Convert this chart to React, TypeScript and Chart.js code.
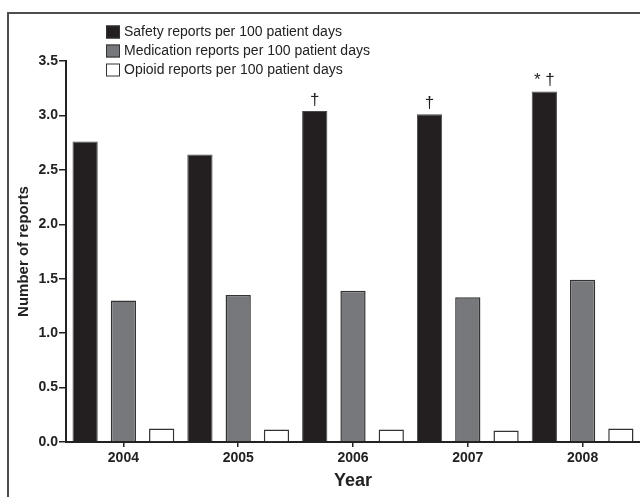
import React, { useEffect, useRef } from "react";
import { Chart, registerables } from "chart.js";

Chart.register(...registerables);

const years = ["2004", "2005", "2006", "2007", "2008"];
const safety = [2.76, 2.64, 3.04, 3.01, 3.22];
const medication = [1.3, 1.35, 1.39, 1.33, 1.49];
const opioid = [0.125, 0.115, 0.115, 0.105, 0.125];
const seriesLabels = [
  "Safety reports per 100 patient days",
  "Medication reports per 100 patient days",
  "Opioid reports per 100 patient days",
];
const safetyMarks = ["", "", "†", "†", "* †"];
const yAxisTitle = "Number of reports";
const xAxisTitle = "Year";

const FONT = "'Liberation Sans', Arial, Helvetica, sans-serif";
const fills = ["#231f20", "#77787b", "#ffffff"];
const borders = ["#4a4a4a", "#333333", "#333333"];

const decorPlugin = {
  id: "decor",
  beforeDraw(chart: any) {
    const ctx = chart.ctx;
    ctx.save();
    ctx.fillStyle = "#ffffff";
    ctx.fillRect(0, 0, chart.width, chart.height);
    ctx.restore();
  },
  afterDraw(chart: any) {
    const ctx = chart.ctx;
    ctx.save();
    // frame (top and left)
    ctx.strokeStyle = "#4d4d4d";
    ctx.lineWidth = 2;
    ctx.beginPath();
    ctx.moveTo(8, chart.height);
    ctx.lineTo(8, 13);
    ctx.lineTo(chart.width, 13);
    ctx.stroke();

    // legend
    const rows = [32, 51, 70];
    chart.data.datasets.forEach((ds: any, i: number) => {
      const cy = rows[i];
      ctx.fillStyle = ds.backgroundColor;
      ctx.fillRect(106, cy - 6.5, 14, 13);
      ctx.strokeStyle = "#333333";
      ctx.lineWidth = 1;
      ctx.strokeRect(106.5, cy - 6, 13, 12);
      ctx.fillStyle = "#222222";
      ctx.font = `14px ${FONT}`;
      ctx.textAlign = "left";
      ctx.textBaseline = "middle";
      ctx.fillText(ds.label, 124, cy + 0.5);
    });

    // significance marks above safety bars
    const meta = chart.getDatasetMeta(0);
    ctx.fillStyle = "#222222";
    ctx.font = `17px ${FONT}`;
    ctx.textAlign = "center";
    ctx.textBaseline = "alphabetic";
    meta.data.forEach((bar: any, i: number) => {
      const m = safetyMarks[i];
      if (!m) return;
      ctx.fillText(m, bar.x, bar.y - 6);
    });
    ctx.restore();
  },
};

export default function App() {
  const ref = useRef<HTMLCanvasElement | null>(null);

  useEffect(() => {
    if (!ref.current) return;
    const chart = new Chart(ref.current, {
      type: "bar",
      data: {
        labels: years,
        datasets: [
          { label: seriesLabels[0], data: safety, backgroundColor: fills[0], borderColor: borders[0], borderWidth: 1 },
          { label: seriesLabels[1], data: medication, backgroundColor: fills[1], borderColor: borders[1], borderWidth: 1.5 },
          { label: seriesLabels[2], data: opioid, backgroundColor: fills[2], borderColor: borders[2], borderWidth: 1.5 },
        ],
      },
      options: {
        animation: false,
        responsive: false,
        devicePixelRatio: 1,
        layout: { padding: { top: 61, left: 0, right: 0, bottom: 0 } },
        datasets: { bar: { barPercentage: 0.66, categoryPercentage: 1.0 } },
        plugins: { legend: { display: false }, tooltip: { enabled: false } },
        scales: {
          x: {
            offset: true,
            grid: { offset: false, drawOnChartArea: false, drawTicks: true, tickLength: 5, color: "#222222", lineWidth: 1.5 },
            border: { display: true, color: "#222222", width: 2 },
            ticks: { color: "#222222", padding: 3, font: { family: FONT, size: 14, weight: "bold" } },
            title: { display: true, text: xAxisTitle, color: "#222222", padding: { top: 0, bottom: 5 }, font: { family: FONT, size: 18, weight: "bold" } },
            afterFit: (s: any) => { s.height = 55; },
          },
          y: {
            min: 0,
            max: 3.5,
            ticks: {
              stepSize: 0.5,
              color: "#222222",
              padding: 1,
              font: { family: FONT, size: 14, weight: "bold" },
              callback: (v: any) => Number(v).toFixed(1),
            },
            grid: { drawOnChartArea: false, drawTicks: true, tickLength: 7, color: "#222222", lineWidth: 1.5 },
            border: { display: true, color: "#222222", width: 2 },
            title: { display: true, text: yAxisTitle, color: "#222222", padding: { top: 15, bottom: 0 }, font: { family: FONT, size: 15, weight: "bold" } },
            afterFit: (s: any) => { s.width = 66; },
          },
        },
      },
      plugins: [decorPlugin],
    });
    return () => chart.destroy();
  }, []);

  return (
    <div style={{ position: "fixed", left: 0, top: 0, width: 640, height: 497, background: "#fff" }}>
      <canvas ref={ref} width={640} height={497} style={{ display: "block", width: 640, height: 497 }} />
    </div>
  );
}
